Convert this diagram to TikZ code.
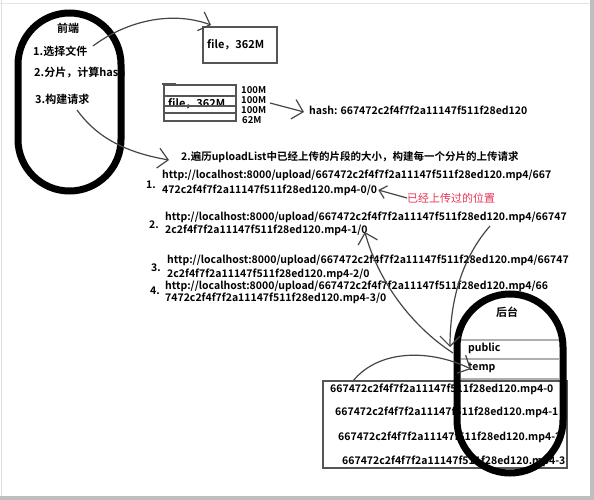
\documentclass[tikz,border=0pt]{standalone}
\usepackage{fontspec}
\setmainfont{Noto Sans CJK SC}[BoldFont={Noto Sans CJK SC Bold}]
\usetikzlibrary{arrows.meta}
\definecolor{arrgray}{RGB}{70,70,70}
\definecolor{boxgray}{RGB}{85,85,85}
\definecolor{sepgray}{RGB}{175,175,175}
\definecolor{pinkred}{RGB}{232,50,85}
\definecolor{framegray}{RGB}{190,190,190}
\tikzset{
  lbl/.style={inner sep=0pt, anchor=west, font=\bfseries\fontsize{10.5}{12}\selectfont},
  biglbl/.style={inner sep=0pt, anchor=west, font=\bfseries\fontsize{11}{13}\selectfont},
  smalllbl/.style={inner sep=0pt, anchor=west, font=\bfseries\fontsize{9.5}{10}\selectfont},
  stadium/.style={draw=black, line width=7pt},
  plainbox/.style={draw=boxgray, line width=1.4pt},
  sepline/.style={draw=sepgray, line width=1.4pt},
  conn/.style={draw=arrgray, line width=1.2pt},
  arr/.style={conn, -{Straight Barb[length=10pt,width=20pt]}},
}
\begin{document}
\begin{tikzpicture}[x=1pt,y=-1pt]
\useasboundingbox (0,0) rectangle (594,500);
\fill[white] (0,0) rectangle (594,500);
% frame
\fill[framegray] (590,0) rectangle (594,500);
\fill[framegray] (0,496) rectangle (594,500);
\draw[framegray!50, line width=0.8pt] (1,0) -- (1,496);
\draw[framegray!40, line width=0.8pt] (0,3) -- (590,3);

% ---------- front end ----------
\draw[stadium, rounded corners=51.5pt] (18,13) rectangle (121,191);
\node[biglbl, anchor=center] (fe) at (68,28) {前端};
\node[biglbl] (s1) at (33,51) {1.选择文件};
\node[biglbl] (s2) at (34,73) {2.分片，计算hash};
\node[biglbl] (s3) at (35,99) {3.构建请求};

% ---------- file box ----------
\draw[plainbox] (203,27) rectangle (277,63);
\node[biglbl] (file1) at (207,45) {file，362M};
\coordinate (file1tip) at (211,25);
\coordinate (s1out) at (93,46);
\draw[arr] (s1out) .. controls (125,22) and (170,10) .. (file1tip);

% ---------- split file ----------
\node[biglbl] (file2) at (168,104) {file，362M};
\draw[plainbox] (164,85) rectangle (236,121);
\draw[plainbox] (164,96) -- (236,96);
\draw[plainbox] (164,106) -- (236,106);
\draw[plainbox] (164,113) -- (236,113);
\draw[plainbox, line width=2pt] (162,84) -- (176,84);
\node[smalllbl] (c1) at (241,90) {100M};
\node[smalllbl] (c2) at (241,100) {100M};
\node[smalllbl] (c3) at (241,110) {100M};
\node[smalllbl] (c4) at (242,120) {62M};
\node[lbl] (hash) at (309,110) {hash: 667472c2f4f7f2a11147f511f28ed120};
\coordinate (hashfrom) at (270,103);
\draw[arr] (hashfrom) -- ([xshift=-5pt,yshift=-2pt]hash.west);

% ---------- step 2 ----------
\node[lbl] (step2) at (181,157) {2.遍历uploadList中已经上传的片段的大小，构建每一个分片的上传请求};
\coordinate (s3out) at (77,110);
\draw[arr] (s3out) .. controls (95,135) and (122,152) .. ([xshift=-12pt,yshift=-3pt]step2.west);

% ---------- urls ----------
\node[lbl] (n1) at (146,185) {1.};
\node[lbl] (u1a) at (162,175) {http://localhost:8000/upload/667472c2f4f7f2a11147f511f28ed120.mp4/667};
\node[lbl] (u1b) at (162,190) {472c2f4f7f2a11147f511f28ed120.mp4-0/0};
\node[lbl] (n2) at (149,225) {2.};
\node[lbl] (u2a) at (165,217) {http://localhost:8000/upload/667472c2f4f7f2a11147f511f28ed120.mp4/66747};
\node[lbl] (u2b) at (165,230) {2c2f4f7f2a11147f511f28ed120.mp4-1/0};
\node[lbl] (n3) at (151,268) {3.};
\node[lbl] (u3a) at (167,260) {http://localhost:8000/upload/667472c2f4f7f2a11147f511f28ed120.mp4/66747};
\node[lbl] (u3b) at (167,274) {2c2f4f7f2a11147f511f28ed120.mp4-2/0};
\node[lbl] (n4) at (150,291) {4.};
\node[lbl] (u4a) at (165,286) {http://localhost:8000/upload/667472c2f4f7f2a11147f511f28ed120.mp4/66};
\node[lbl] (u4b) at (165,298) {7472c2f4f7f2a11147f511f28ed120.mp4-3/0};

% red note
\node[inner sep=0pt, anchor=west, text=pinkred, font=\fontsize{11}{13}\selectfont] (note) at (407,198) {已经上传过的位置};
\draw[arr, -{Straight Barb[length=7pt,width=13pt]}] (note.west) -- ([xshift=1pt,yshift=0pt]u1b.east);

% ---------- chunk box ----------
\draw[plainbox] (323,381) rectangle (567,468);
\node[lbl] (k0) at (330,389) {667472c2f4f7f2a11147f511f28ed120.mp4-0};
\node[lbl] (k1) at (335,412) {667472c2f4f7f2a11147f511f28ed120.mp4-1};
\node[lbl] (k2) at (338,437) {667472c2f4f7f2a11147f511f28ed120.mp4-2};
\node[lbl] (k3) at (342,461) {667472c2f4f7f2a11147f511f28ed120.mp4-3};

% ---------- back end ----------
\draw[sepline] (461,340) -- (559,340);
\draw[sepline] (461,359) -- (559,359);
\draw[sepline] (461,379) -- (559,379);
\node[biglbl, anchor=center] (be) at (507,312) {后台};
\node[lbl] (pub) at (468,348) {public};
\node[lbl] (tmp) at (468,368) {temp};
\draw[stadium, rounded corners=53pt] (457,294) rectangle (563,473);

% ---------- connectors to temp ----------
\coordinate (aStart) at (490,226);
\coordinate (aEnd) at (450,347);
\draw[arr] (aStart) .. controls (462,258) and (450,300) .. (aEnd);
\coordinate (bFrom) at (453,353);
\draw[arr] (bFrom) .. controls (410,325) and (378,280) .. ([xshift=-3pt,yshift=-2pt]u2b.east);
\coordinate (kFrom) at (353,381);
\draw[arr] (kFrom) .. controls (380,348) and (432,350) .. ([xshift=3pt,yshift=-1pt]tmp.west);
\end{tikzpicture}
\end{document}
